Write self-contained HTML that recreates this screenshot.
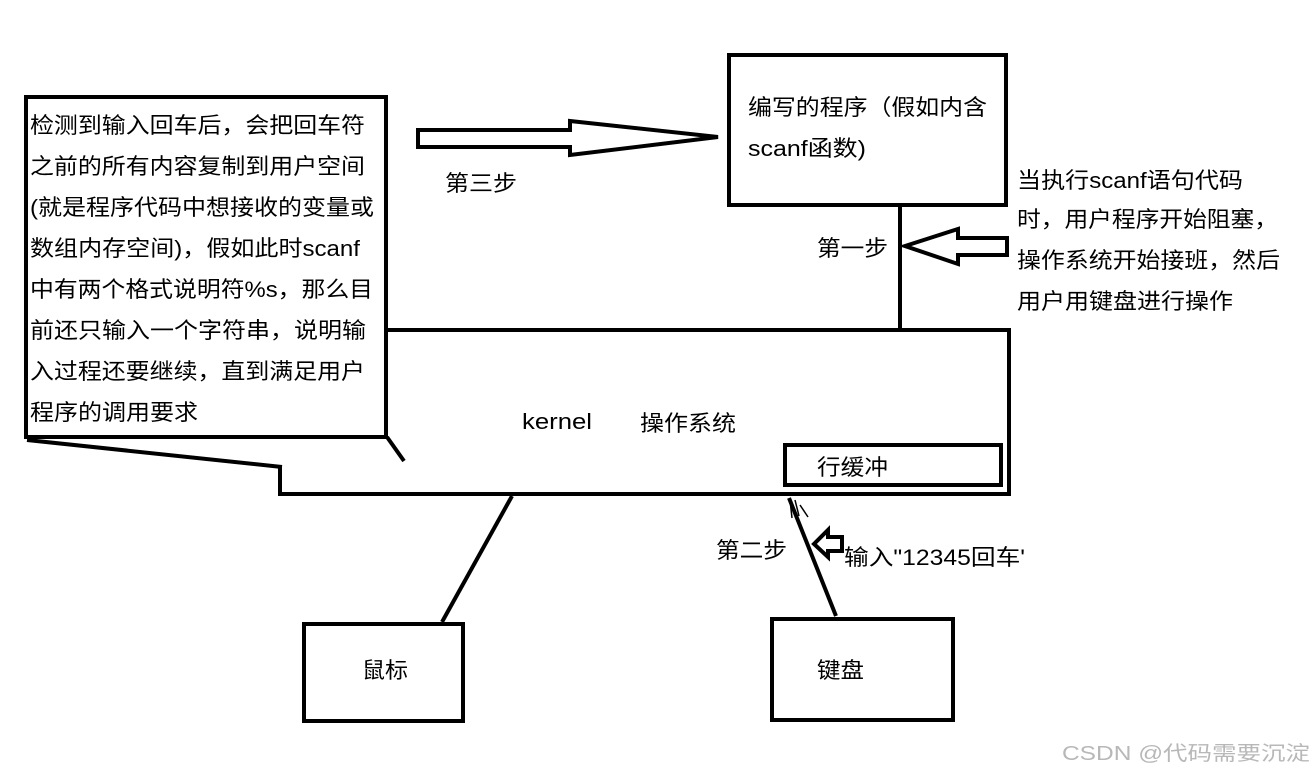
<!DOCTYPE html>
<html><head><meta charset="utf-8"><style>
body{margin:0;background:#fff;width:1316px;height:776px;overflow:hidden}
svg text{font-family:"Liberation Sans","Noto Sans CJK SC",sans-serif;font-size:22px;fill:#000}
</style></head><body>
<svg width="1316" height="776" viewBox="0 0 1316 776" xmlns="http://www.w3.org/2000/svg">
<g fill="none" stroke="#000" stroke-width="4">
<rect x="26" y="97" width="360" height="340"/>
<polyline points="27,440 282,467"/>
<polyline points="387,437 404,461"/>
<polyline points="385,330 1009,330 1009,494 280,494 280,467"/>
<rect x="729" y="55" width="277" height="150"/>
<line x1="900" y1="205" x2="900" y2="330"/>
<rect x="785" y="445" width="216" height="40"/>
<rect x="304" y="624" width="159" height="97"/>
<rect x="772" y="619" width="181" height="101"/>
<line x1="512" y1="496" x2="442" y2="622"/>
<line x1="789" y1="498" x2="836" y2="616"/>
<polygon points="418,130 570,130 570,121 718,137 570,155 570,147 418,147"/>
<polygon points="1007,238 958,238 958,229 905,246 958,264 958,255 1007,255"/>
<polygon points="842,537 828,537 828,530 814,544 828,557 828,551 842,551"/>
</g>
<path d="M790 500 l2 18 M795 500 l4 16 M800 505 l8 12" stroke="#000" stroke-width="1.5" fill="none"/>
<g>
<text x="30" y="133" textLength="335" lengthAdjust="spacingAndGlyphs">检测到输入回车后，会把回车符</text>
<text x="30" y="174" textLength="335" lengthAdjust="spacingAndGlyphs">之前的所有内容复制到用户空间</text>
<text x="30" y="215" textLength="344" lengthAdjust="spacingAndGlyphs">(就是程序代码中想接收的变量或</text>
<text x="30" y="256" textLength="330" lengthAdjust="spacingAndGlyphs">数组内存空间)，假如此时scanf</text>
<text x="30" y="297" textLength="343" lengthAdjust="spacingAndGlyphs">中有两个格式说明符%s，那么目</text>
<text x="30" y="338" textLength="336" lengthAdjust="spacingAndGlyphs">前还只输入一个字符串，说明输</text>
<text x="30" y="379" textLength="335" lengthAdjust="spacingAndGlyphs">入过程还要继续，直到满足用户</text>
<text x="30" y="420" textLength="168" lengthAdjust="spacingAndGlyphs">程序的调用要求</text>
<text x="748" y="115" textLength="239" lengthAdjust="spacingAndGlyphs">编写的程序（假如内含</text>
<text x="748" y="156" textLength="118" lengthAdjust="spacingAndGlyphs">scanf函数)</text>
<text x="1017" y="188" textLength="226" lengthAdjust="spacingAndGlyphs">当执行scanf语句代码</text>
<text x="1017" y="227" textLength="261" lengthAdjust="spacingAndGlyphs">时，用户程序开始阻塞，</text>
<text x="1017" y="268" textLength="263" lengthAdjust="spacingAndGlyphs">操作系统开始接班，然后</text>
<text x="1017" y="309" textLength="216" lengthAdjust="spacingAndGlyphs">用户用键盘进行操作</text>
<text x="445" y="191" textLength="72" lengthAdjust="spacingAndGlyphs">第三步</text>
<text x="817" y="256" textLength="71" lengthAdjust="spacingAndGlyphs">第一步</text>
<text x="716" y="558" textLength="71" lengthAdjust="spacingAndGlyphs">第二步</text>
<text x="844" y="565" textLength="181" lengthAdjust="spacingAndGlyphs">输入"12345回车'</text>
<text x="522" y="429" textLength="70" lengthAdjust="spacingAndGlyphs">kernel</text>
<text x="640" y="431" textLength="96" lengthAdjust="spacingAndGlyphs">操作系统</text>
<text x="817" y="475" textLength="71" lengthAdjust="spacingAndGlyphs">行缓冲</text>
<text x="362" y="678" textLength="46" lengthAdjust="spacingAndGlyphs">鼠标</text>
<text x="817" y="678" textLength="47" lengthAdjust="spacingAndGlyphs">键盘</text>
<text x="1062" y="760" textLength="248" lengthAdjust="spacingAndGlyphs" style="fill:#b8b8b8;font-size:20px">CSDN @代码需要沉淀</text>
</g>
</svg>
</body></html>
